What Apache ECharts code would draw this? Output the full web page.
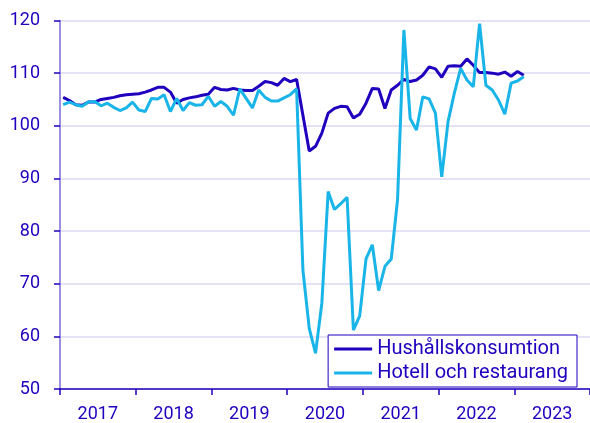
<!DOCTYPE html>
<html>
<head>
<meta charset="utf-8">
<script src="https://cdn.jsdelivr.net/npm/echarts@6/dist/echarts.min.js"></script>
<style>
html,body{margin:0;padding:0;background:#fff;}
#chart{width:590px;height:423px;}
</style>
</head>
<body>
<div id="chart"></div>
<script>
// Year labels on the x axis
var yearLabels = ['2017','2018','2019','2020','2021','2022','2023'];
// Monthly observations, starting January 2017
var startYear = 2017;
var seriesNames = ['Hushållskonsumtion','Hotell och restaurang'];
var hushall = [
  105.4,104.8,104.0,103.9,104.5,104.5,105.0,105.2,105.4,105.7,105.9,106.0,
  106.1,106.4,106.8,107.3,107.3,106.4,104.3,105.0,105.3,105.5,105.8,106.0,
  107.3,106.9,106.8,107.1,106.8,106.7,106.7,107.5,108.4,108.2,107.7,109.0,
  108.4,108.8,102.0,95.2,96.1,98.6,102.4,103.3,103.7,103.6,101.5,102.2,
  104.3,107.1,107.0,103.3,106.8,107.7,108.8,108.4,108.7,109.6,111.2,110.8,
  109.2,111.3,111.4,111.3,112.7,111.5,110.1,110.1,110.0,109.8,110.2,109.4,
  110.3,109.6
];
var hotell = [
  104.0,104.5,104.0,103.7,104.5,104.6,103.8,104.3,103.5,102.9,103.4,104.5,
  103.0,102.7,105.2,105.1,105.9,102.7,105.2,102.9,104.4,103.9,104.0,105.6,
  103.7,104.6,103.7,102.0,107.0,105.2,103.4,106.8,105.4,104.7,104.7,105.3,
  105.9,107.0,72.6,61.5,56.8,66.3,87.5,84.1,85.2,86.4,61.2,63.9,
  74.7,77.4,68.7,73.3,74.7,86.0,118.2,101.4,99.2,105.5,105.1,102.4,
  90.3,100.8,106.2,110.9,108.7,107.4,119.4,107.7,106.8,104.9,102.2,108.1,
  108.5,109.3
];
var yTicks = {min:50, max:120, step:10};

var DARK = '#1e00be';
var CYAN = '#19b4e8';
var FONT = 'Roboto';

function toPoints(arr){
  return arr.map(function(v,i){ return [startYear + (i+0.5)/12, v]; });
}

var chart = echarts.init(document.getElementById('chart'), null, {renderer:'canvas'});
chart.setOption({
  animation:false,
  backgroundColor:'#ffffff',
  textStyle:{fontFamily:FONT},
  grid:{left:60, right:0, top:20.5, bottom:34, containLabel:false},
  legend:{
    orient:'vertical',
    right:13, bottom:36,
    data:seriesNames,
    icon:'rect',
    itemWidth:38, itemHeight:3,
    itemGap:4,
    padding:[4,9,4,6],
    backgroundColor:'#ffffff',
    borderColor:DARK, borderWidth:1, borderRadius:0,
    textStyle:{color:DARK, fontSize:20, fontFamily:FONT, lineHeight:20}
  },
  xAxis:[{
    type:'category',
    data:yearLabels,
    boundaryGap:true,
    axisLine:{show:true, lineStyle:{color:DARK, width:1.5}},
    axisTick:{show:true, length:6, lineStyle:{color:DARK, width:1.5}},
    axisLabel:{color:DARK, fontSize:18, fontFamily:FONT, margin:16},
    splitLine:{show:false}
  },{
    type:'value',
    min:startYear, max:startYear + yearLabels.length,
    show:false,
    splitLine:{show:false}
  }],
  yAxis:{
    type:'value',
    min:yTicks.min, max:yTicks.max, interval:yTicks.step,
    axisLine:{show:true, lineStyle:{color:'#7a6ad6', width:1.5}},
    axisTick:{show:true, length:6, lineStyle:{color:DARK, width:1.5}},
    axisLabel:{color:DARK, fontSize:18, fontFamily:FONT, margin:20},
    splitLine:{show:true, lineStyle:{color:'#dcd9f3', width:1.5}}
  },
  series:[{
    name:seriesNames[0], type:'line', xAxisIndex:1,
    data:toPoints(hushall), showSymbol:false, symbol:'none',
    lineStyle:{color:DARK, width:3}, itemStyle:{color:DARK}
  },{
    name:seriesNames[1], type:'line', xAxisIndex:1,
    data:toPoints(hotell), showSymbol:false, symbol:'none',
    lineStyle:{color:CYAN, width:3}, itemStyle:{color:CYAN}
  }]
});
</script>
</body>
</html>
